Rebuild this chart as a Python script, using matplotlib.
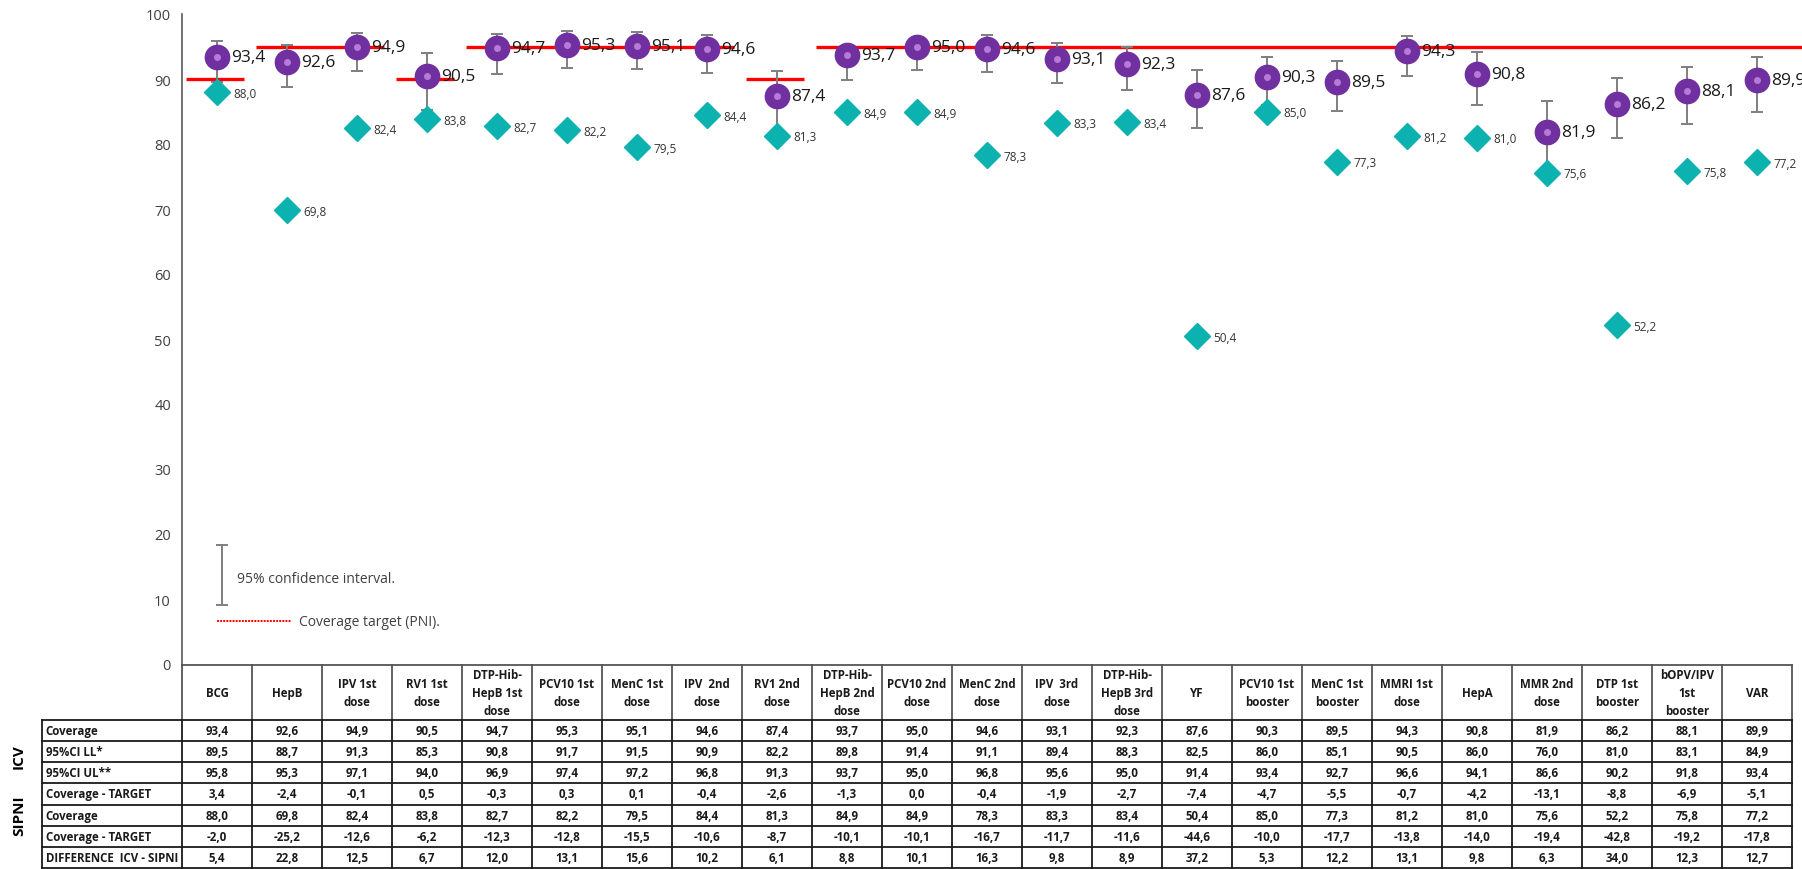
import matplotlib
matplotlib.use("Agg")
import matplotlib.pyplot as plt
from matplotlib.lines import Line2D

plt.rcParams['font.family'] = ['Open Sans', 'DejaVu Sans']

# ---- data ----
categories = ["BCG", "HepB", "IPV 1st\ndose", "RV1 1st\ndose", "DTP-Hib-\nHepB 1st\ndose",
              "PCV10 1st\ndose", "MenC 1st\ndose", "IPV  2nd\ndose", "RV1 2nd\ndose",
              "DTP-Hib-\nHepB 2nd\ndose", "PCV10 2nd\ndose", "MenC 2nd\ndose", "IPV  3rd\ndose",
              "DTP-Hib-\nHepB 3rd\ndose", "YF", "PCV10 1st\nbooster", "MenC 1st\nbooster",
              "MMRI 1st\ndose", "HepA", "MMR 2nd\ndose", "DTP 1st\nbooster",
              "bOPV/IPV\n1st\nbooster", "VAR"]
icv_coverage = [93.4, 92.6, 94.9, 90.5, 94.7, 95.3, 95.1, 94.6, 87.4, 93.7, 95.0, 94.6,
                93.1, 92.3, 87.6, 90.3, 89.5, 94.3, 90.8, 81.9, 86.2, 88.1, 89.9]
icv_ci_low = [89.5, 88.7, 91.3, 85.3, 90.8, 91.7, 91.5, 90.9, 82.2, 89.8, 91.4, 91.1,
              89.4, 88.3, 82.5, 86.0, 85.1, 90.5, 86.0, 76.0, 81.0, 83.1, 84.9]
icv_ci_high = [95.8, 95.3, 97.1, 94.0, 96.9, 97.4, 97.2, 96.8, 91.3, 93.7, 95.0, 96.8,
               95.6, 95.0, 91.4, 93.4, 92.7, 96.6, 94.1, 86.6, 90.2, 91.8, 93.4]
sipni_coverage = [88.0, 69.8, 82.4, 83.8, 82.7, 82.2, 79.5, 84.4, 81.3, 84.9, 84.9, 78.3,
                  83.3, 83.4, 50.4, 85.0, 77.3, 81.2, 81.0, 75.6, 52.2, 75.8, 77.2]
target = [90, 95, 95, 90, 95, 95, 95, 95, 90, 95, 95, 95,
          95, 95, 95, 95, 95, 95, 95, 95, 95, 95, 95]

PURPLE = "#7030A0"
DOT = "#B67AD8"
TEAL = "#0BB2AF"
RED = "#FF0000"
GREY = "#7F7F7F"

W, H = 1802, 870
fig = plt.figure(figsize=(W / 100, H / 100), dpi=100)

n = len(categories)
xs = list(range(n))

# main chart axes: x from 182 px to 1792 px, y 0 -> 665 px, 100 -> 15 px
ax = fig.add_axes([182 / W, (H - 665) / H, (1792 - 182) / W, 650 / H])
ax.set_xlim(-0.5, n - 0.5)
ax.set_ylim(0, 100)
for s in ("top", "right", "bottom"):
    ax.spines[s].set_visible(False)
ax.spines["left"].set_color("#595959")
ax.spines["left"].set_linewidth(1.2)
ax.set_xticks([])
ax.set_yticks(range(0, 101, 10))
ax.tick_params(axis="y", length=0, pad=8, labelsize=10.5, labelcolor="#404040")

# coverage target segments (consecutive categories sharing a target)
groups = []
start = 0
for i in range(1, n + 1):
    if i == n or target[i] != target[start]:
        groups.append((start, i - 1, target[start]))
        start = i
for gi, (a, b, t) in enumerate(groups):
    x0 = max(a - 0.44, -0.5)
    x1 = b + 0.38 if gi < len(groups) - 1 else n - 0.5 + 0.2
    ax.plot([x0, x1], [t, t], color=RED, lw=2.4, solid_capstyle="butt",
            zorder=2, clip_on=False)

# ICV coverage with 95% CI
yerr_low = [c - l for c, l in zip(icv_coverage, icv_ci_low)]
yerr_high = [h - c for c, h in zip(icv_coverage, icv_ci_high)]
ax.errorbar(xs, icv_coverage, yerr=[yerr_low, yerr_high], fmt="none",
            ecolor=GREY, elinewidth=1.4, capsize=4, capthick=1.4, zorder=3)
ax.plot(xs, icv_coverage, "o", ms=17.5, color=PURPLE, mec=PURPLE, zorder=4, ls="none")
ax.plot(xs, icv_coverage, "o", ms=4, color=DOT, mec=DOT, zorder=5, ls="none")

# SIPNI coverage
ax.plot(xs, sipni_coverage, "D", ms=13.5, color=TEAL, mec=TEAL, zorder=4, ls="none")


def fmt(v):
    v = round(v, 1) + 0.0
    return f"{v:.1f}".replace(".", ",")


for x, v in zip(xs, icv_coverage):
    ax.annotate(fmt(v), (x, v), xytext=(10, 0), textcoords="offset points",
                ha="left", va="center", fontsize=12.5, color="#1a1a1a", zorder=6)
for x, v in zip(xs, sipni_coverage):
    ax.annotate(fmt(v), (x, v), xytext=(12, -1), textcoords="offset points",
                ha="left", va="center", fontsize=8.5, color="#333333", zorder=6)

# in-chart key
ax.errorbar([0.07], [13.7], yerr=[[4.6], [4.6]], fmt="none", ecolor=GREY,
            elinewidth=1.4, capsize=4, capthick=1.4)
ax.text(0.29, 13.2, "95% confidence interval.", fontsize=10, color="#404040",
        ha="left", va="center")
ax.add_line(Line2D([0.0, 1.06], [6.6, 6.6], color=RED, lw=1.4, ls=(0, (1, 0.6))))
ax.text(1.17, 6.6, "Coverage target (PNI).", fontsize=10, color="#404040",
        ha="left", va="center")

# ---- data table ----
row_labels = ["Coverage", "95%CI LL*", "95%CI UL**", "Coverage - TARGET",
              "Coverage", "Coverage - TARGET", "DIFFERENCE  ICV - SIPNI"]
rows = [
    icv_coverage,
    icv_ci_low,
    icv_ci_high,
    [c - t for c, t in zip(icv_coverage, target)],
    sipni_coverage,
    [c - t for c, t in zip(sipni_coverage, target)],
    [a - b for a, b in zip(icv_coverage, sipni_coverage)],
]

header_h = 2.6
nrows = len(rows)
tab = fig.add_axes([42 / W, 1 / H, (1792 - 42) / W, 203 / H])
tab.set_xlim(-2.5, n - 0.5)
tab.set_ylim(0, nrows + header_h)
tab.axis("off")

LC = "#1a1a1a"
lw = 1.3
top = nrows + header_h
# header frame
tab.plot([-0.5, n - 0.5], [top, top], color="#555555", lw=lw, clip_on=False)
for i in range(n + 1):
    tab.plot([i - 0.5, i - 0.5], [nrows, top], color="#555555", lw=lw, clip_on=False)
# body grid
for r in range(nrows + 1):
    tab.plot([-2.5, n - 0.5], [r, r], color=LC, lw=lw, clip_on=False)
tab.plot([-2.5, -2.5], [0, nrows], color=LC, lw=lw, clip_on=False)
for i in range(n + 1):
    tab.plot([i - 0.5, i - 0.5], [0, nrows], color=LC, lw=lw, clip_on=False)

for i, c in enumerate(categories):
    tab.text(i, nrows + header_h / 2, c, ha="center", va="center", fontsize=8.3,
             fontweight="bold", linespacing=1.5, color="#1a1a1a")
for r, (lab, vals) in enumerate(zip(row_labels, rows)):
    yc = nrows - r - 0.5
    tab.text(-2.45, yc, lab, ha="left", va="center", fontsize=8.3, fontweight="bold",
             color="#1a1a1a")
    for i, v in enumerate(vals):
        tab.text(i, yc, fmt(v), ha="center", va="center", fontsize=8.3,
                 fontweight="bold", color="#1a1a1a")

# group labels
fig.text(19 / W, (H - 757) / H, "ICV", rotation=90, ha="center", va="center",
         fontsize=11, fontweight="bold")
fig.text(19 / W, (H - 816) / H, "SIPNI", rotation=90, ha="center", va="center",
         fontsize=11, fontweight="bold")

fig.savefig("out.png", dpi=100)
